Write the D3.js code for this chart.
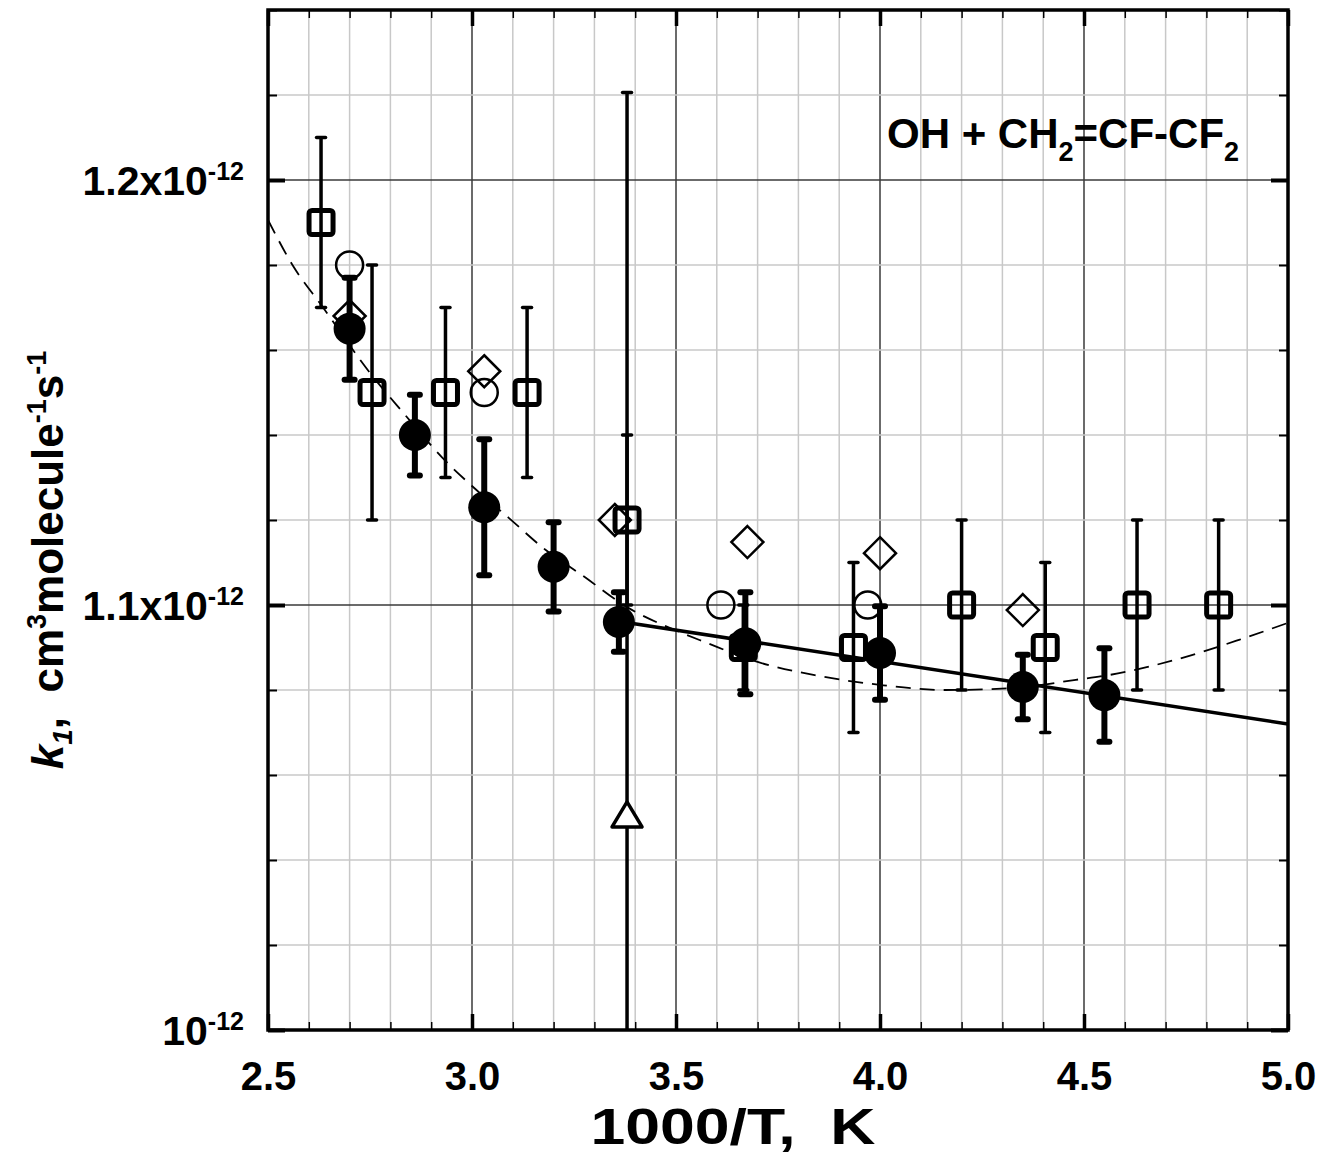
<!DOCTYPE html>
<html>
<head>
<script src="https://d3js.org/d3.v7.min.js"></script>
<style>
  html, body { margin: 0; padding: 0; background: #fff; }
  svg text { font-family: "Liberation Sans", Arial, sans-serif; font-weight: bold; fill: #000; }
</style>
</head>
<body>
<div id="chart"></div>
<script>
// this work, filled circles (1000/T, k in 1e-12 units, +- error)
var fillX = [2.70, 2.86, 3.03, 3.20, 3.36, 3.67, 4.00, 4.35, 4.55];
var fillK = [1.165, 1.140, 1.123, 1.109, 1.096, 1.091, 1.0887, 1.0807, 1.0788];
var fillErr = [0.012, 0.0095, 0.016, 0.0105, 0.007, 0.012, 0.011, 0.0076, 0.011];

// open squares with error bars
var sqX = [2.63, 2.755, 2.935, 3.135, 3.38, 3.665, 3.935, 4.20, 4.405, 4.63, 4.83];
var sqK = [1.19, 1.15, 1.15, 1.15, 1.12, 1.09, 1.09, 1.10, 1.09, 1.10, 1.10];
var sqErr = [0.02, 0.03, 0.02, 0.02, 0.02, 0.01, 0.02, 0.02, 0.02, 0.02, 0.02];

// open circles
var ocX = [2.70, 3.03, 3.61, 3.97];
var ocK = [1.18, 1.15, 1.10, 1.10];

// open diamonds
var dmX = [2.70, 3.03, 3.35, 3.675, 4.00, 4.35];
var dmK = [1.168, 1.155, 1.12, 1.1148, 1.1122, 1.0988];

// open triangle
var trX = [3.38];
var trK = [1.0506];
var trErr = [0.17];

// solid fit line (ends)
var fitX = [3.37, 5.0];
var fitK = [1.096, 1.072];

// dashed curve
var dashX = [2.50, 2.56, 2.635, 2.75, 2.83, 2.94, 3.00, 3.09, 3.18, 3.27, 3.38, 3.50, 3.57, 3.70, 3.84, 4.00, 4.16, 4.33, 4.48, 4.56, 4.72, 4.88, 5.00];
var dashK = [1.1906, 1.180, 1.170, 1.1546, 1.1454, 1.1334, 1.128, 1.1205, 1.113, 1.107, 1.0995, 1.094, 1.0913, 1.0866, 1.0835, 1.0812, 1.080, 1.0805, 1.0824, 1.0835, 1.087, 1.0918, 1.0958];

// ticks
var xMajor = [2.5, 3.0, 3.5, 4.0, 4.5, 5.0];
var yMajor = [1.0, 1.1, 1.2];
var yLabels = ["10", "1.1x10", "1.2x10"];

var W = 1331, H = 1168;
var m = {left: 268, top: 10, right: 43, bottom: 138};
var iw = W - m.left - m.right, ih = H - m.top - m.bottom;

var svg = d3.select("#chart").append("svg").attr("width", W).attr("height", H);
var g = svg.append("g").attr("transform", "translate(" + m.left + "," + m.top + ")");

var x = d3.scaleLinear().domain([2.5, 5.0]).range([0, iw]);
var y = d3.scaleLinear().domain([1.0, 1.24]).range([ih, 0]);

var xMinor = d3.range(26).map(function(i) { return +(2.5 + i * 0.1).toFixed(2); });
var yMinor = d3.range(13).map(function(i) { return +(1.0 + i * 0.02).toFixed(3); });
var isMajX = function(d) { return Math.abs(d * 2 - Math.round(d * 2)) < 1e-6; };
var isMajY = function(d) { return Math.abs(d * 10 - Math.round(d * 10)) < 1e-6; };

svg.append("defs").append("clipPath").attr("id", "clip")
  .append("rect").attr("width", iw).attr("height", ih);

// grid
var grid = g.append("g");
grid.selectAll(".gx").data(xMinor.filter(function(d) { return d > 2.5 && d < 5.0; })).enter().append("line")
  .attr("x1", x).attr("x2", x).attr("y1", 0).attr("y2", ih)
  .attr("stroke", function(d) { return isMajX(d) ? "#3a3a3a" : "#c8c8c8"; })
  .attr("stroke-width", 1.5);
grid.selectAll(".gy").data(yMinor.filter(function(d) { return d > 1.0 && d < 1.24; })).enter().append("line")
  .attr("y1", y).attr("y2", y).attr("x1", 0).attr("x2", iw)
  .attr("stroke", function(d) { return isMajY(d) ? "#3a3a3a" : "#c8c8c8"; })
  .attr("stroke-width", 1.5);

var plot = g.append("g").attr("clip-path", "url(#clip)");

// dashed curve
plot.append("path")
  .datum(dashX.map(function(d, i) { return [d, dashK[i]]; }))
  .attr("fill", "none").attr("stroke", "#000").attr("stroke-width", 1.8)
  .attr("stroke-dasharray", "15,9")
  .attr("d", d3.line().x(function(d) { return x(d[0]); }).y(function(d) { return y(d[1]); }).curve(d3.curveMonotoneX));

// solid fit
plot.append("path")
  .datum(fitX.map(function(d, i) { return [d, fitK[i]]; }))
  .attr("fill", "none").attr("stroke", "#000").attr("stroke-width", 3.5)
  .attr("d", d3.line().x(function(d) { return x(d[0]); }).y(function(d) { return y(d[1]); }));

function errBars(sel, xs, ks, es, sw, capW) {
  var gg = sel.append("g").attr("stroke", "#000");
  xs.forEach(function(xv, i) {
    var cx = x(xv), y1 = y(ks[i] + es[i]), y2 = y(ks[i] - es[i]);
    gg.append("line").attr("x1", cx).attr("x2", cx).attr("y1", y1).attr("y2", y2).attr("stroke-width", sw);
    [y1, y2].forEach(function(yy) {
      gg.append("line").attr("x1", cx - capW / 2).attr("x2", cx + capW / 2).attr("y1", yy).attr("y2", yy)
        .attr("stroke-width", sw).attr("stroke-linecap", "round");
    });
  });
}

// squares
errBars(plot, sqX, sqK, sqErr, 3.5, 9);
plot.append("g").selectAll("rect").data(sqX).enter().append("rect")
  .attr("x", function(d) { return x(d) - 12; })
  .attr("y", function(d, i) { return y(sqK[i]) - 12; })
  .attr("width", 24).attr("height", 24).attr("rx", 3)
  .attr("fill", "none").attr("stroke", "#000").attr("stroke-width", 5);

// triangle
errBars(plot, trX, trK, trErr, 3.5, 9);
plot.append("g").selectAll("path").data(trX).enter().append("path")
  .attr("transform", function(d, i) { return "translate(" + x(d) + "," + y(trK[i]) + ")"; })
  .attr("d", "M0,-13L15,12L-15,12Z")
  .attr("fill", "#fff").attr("stroke", "#000").attr("stroke-width", 3.5).attr("stroke-linejoin", "round");

// open circles
plot.append("g").selectAll("circle").data(ocX).enter().append("circle")
  .attr("cx", x).attr("cy", function(d, i) { return y(ocK[i]); }).attr("r", 13.5)
  .attr("fill", "none").attr("stroke", "#000").attr("stroke-width", 2.5);

// diamonds
plot.append("g").selectAll("path").data(dmX).enter().append("path")
  .attr("transform", function(d, i) { return "translate(" + x(d) + "," + y(dmK[i]) + ")"; })
  .attr("d", "M0,-16L16,0L0,16L-16,0Z")
  .attr("fill", "none").attr("stroke", "#000").attr("stroke-width", 2.5);

// filled circles
errBars(plot, fillX, fillK, fillErr, 6, 10);
plot.append("g").selectAll("circle").data(fillX).enter().append("circle")
  .attr("cx", x).attr("cy", function(d, i) { return y(fillK[i]); }).attr("r", 16)
  .attr("fill", "#000");

// axes: inward ticks on all four sides
function tickAxis(axisFn, scale, vals, size, sw, tr) {
  var a = g.append("g").attr("transform", tr || null)
    .call(axisFn(scale).tickValues(vals).tickSize(size).tickFormat(""));
  a.select(".domain").remove();
  a.selectAll(".tick line").attr("stroke", "#000").attr("stroke-width", sw);
  return a;
}
var xMin = xMinor.filter(function(d) { return !isMajX(d); });
var yMin = yMinor.filter(function(d) { return !isMajY(d); });
tickAxis(d3.axisBottom, x, xMin, -8, 1.5, "translate(0," + ih + ")");
tickAxis(d3.axisBottom, x, xMajor, -16, 3.5, "translate(0," + ih + ")");
tickAxis(d3.axisTop, x, xMin, -8, 1.5);
tickAxis(d3.axisTop, x, xMajor, -16, 3.5);
tickAxis(d3.axisLeft, y, yMin, -9, 2);
tickAxis(d3.axisLeft, y, yMajor, -17, 4);
tickAxis(d3.axisRight, y, yMin, -9, 2, "translate(" + iw + ",0)");
tickAxis(d3.axisRight, y, yMajor, -17, 4, "translate(" + iw + ",0)");

// frame
g.append("rect").attr("width", iw).attr("height", ih)
  .attr("fill", "none").attr("stroke", "#000").attr("stroke-width", 3.5);

// x tick labels
var xl = g.append("g").attr("transform", "translate(0," + ih + ")")
  .call(d3.axisBottom(x).tickValues(xMajor).tickSize(0).tickPadding(32).tickFormat(d3.format(".1f")));
xl.select(".domain").remove();
xl.selectAll("text").attr("font-size", 40).attr("font-family", null).attr("fill", "#000");

// y tick labels with exponent
var yl = g.append("g");
yMajor.forEach(function(v, i) {
  var t = yl.append("text").attr("x", -24).attr("y", y(v) + 15)
    .attr("text-anchor", "end").attr("font-size", 41);
  t.append("tspan").text(yLabels[i]);
  t.append("tspan").attr("font-size", 25).attr("dy", -15).text("-12");
});

// y axis title
var yt = svg.append("text").attr("transform", "translate(63,560) rotate(-90)")
  .attr("text-anchor", "middle").attr("font-size", 44);
yt.append("tspan").attr("font-style", "italic").text("k");
yt.append("tspan").attr("font-style", "italic").attr("font-size", 28).attr("dy", 9).text("1");
yt.append("tspan").attr("dy", -9).text(",\u00a0\u00a0cm");
yt.append("tspan").attr("font-size", 27).attr("dy", -17).text("3");
yt.append("tspan").attr("dy", 17).text("molecule");
yt.append("tspan").attr("font-size", 27).attr("dy", -17).text("-1");
yt.append("tspan").attr("dy", 17).text("s");
yt.append("tspan").attr("font-size", 27).attr("dy", -17).text("-1");

// x axis title
svg.append("text").attr("x", 733).attr("y", 1144).attr("text-anchor", "middle")
  .attr("font-size", 50).attr("textLength", 285).attr("lengthAdjust", "spacingAndGlyphs")
  .text("1000/T,\u00a0\u00a0K");

// reaction label
var rt = svg.append("text").attr("x", 887).attr("y", 148).attr("font-size", 42);
rt.append("tspan").text("OH + CH");
rt.append("tspan").attr("font-size", 27).attr("dy", 13).text("2");
rt.append("tspan").attr("dy", -13).text("=CF-CF");
rt.append("tspan").attr("font-size", 27).attr("dy", 13).text("2");
</script>
</body>
</html>
